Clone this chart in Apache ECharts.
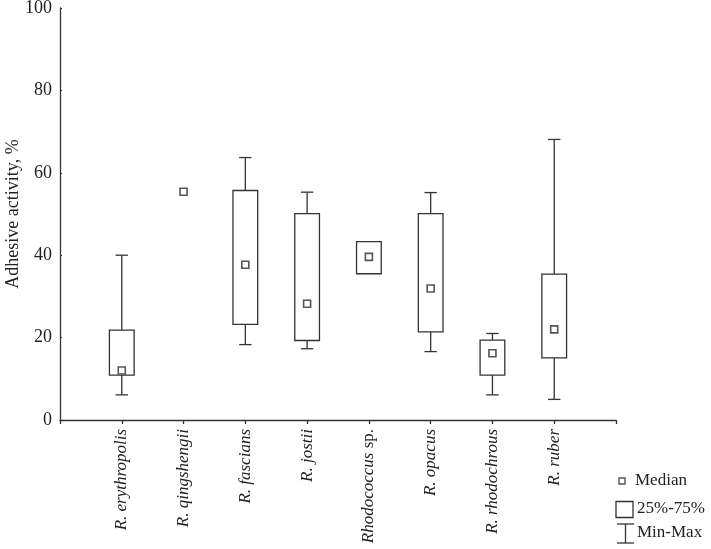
<!DOCTYPE html>
<html>
<head>
<meta charset="utf-8">
<script src="https://cdn.jsdelivr.net/npm/echarts@6/dist/echarts.min.js"></script>
<style>
  html, body { margin: 0; padding: 0; background: #fff; }
  #chart { width: 711px; height: 549px; }
</style>
</head>
<body>
<div id="chart"></div>
<script>
// species along the x axis (positions 1..8 on a 0..9 value axis)
const species = [
  "R. erythropolis", "R. qingshengii", "R. fascians", "R. jostii",
  "Rhodococcus sp.", "R. opacus", "R. rhodochrous", "R. ruber"
];
// null = not drawn
const minVals    = [6.1, null, 18.3, 17.3, 35.5, 16.6, 6.1, 5.0];
const q1Vals     = [10.9, null, 23.2, 19.3, 35.5, 21.4, 10.9, 15.1];
const medianVals = [12.0, 55.4, 37.7, 28.2, 39.6, 31.9, 16.2, 22.0];
const q3Vals     = [21.8, null, 55.7, 50.1, 43.3, 50.1, 19.4, 35.4];
const maxVals    = [40.0, null, 63.7, 55.3, 43.3, 55.2, 21.0, 68.1];
const yTicks = [0, 20, 40, 60, 80, 100];

const SERIF = '"Liberation Serif", "Times New Roman", serif';
const INK = "#333";

const rows = species.map((s, i) => [i + 1, minVals[i], q1Vals[i], medianVals[i], q3Vals[i], maxVals[i]]);

function renderBox(params, api) {
  const x = api.value(0);
  const mn = api.value(1), q1 = api.value(2), md = api.value(3), q3 = api.value(4), mx = api.value(5);
  const step = api.size([1, 0])[0];
  const boxW = step * 0.4, capW = step * 0.2;
  const line = { stroke: INK, lineWidth: 1.3, fill: null };
  const kids = [];
  const has = v => v != null && !isNaN(v);
  if (has(q1) && has(q3)) {
    const top = api.coord([x, q3]), bot = api.coord([x, q1]);
    if (has(mx) && mx > q3) {
      const p = api.coord([x, mx]);
      kids.push({ type: "line", shape: { x1: p[0], y1: p[1], x2: top[0], y2: top[1] }, style: line });
      kids.push({ type: "line", shape: { x1: p[0] - capW / 2, y1: p[1], x2: p[0] + capW / 2, y2: p[1] }, style: line });
    }
    if (has(mn) && mn < q1) {
      const p = api.coord([x, mn]);
      kids.push({ type: "line", shape: { x1: bot[0], y1: bot[1], x2: p[0], y2: p[1] }, style: line });
      kids.push({ type: "line", shape: { x1: p[0] - capW / 2, y1: p[1], x2: p[0] + capW / 2, y2: p[1] }, style: line });
    }
    kids.push({
      type: "rect",
      shape: { x: top[0] - boxW / 2, y: top[1], width: boxW, height: bot[1] - top[1] },
      style: { stroke: INK, lineWidth: 1.3, fill: "#fff" }
    });
  }
  if (has(md)) {
    const p = api.coord([x, md]);
    kids.push({
      type: "rect",
      shape: { x: p[0] - 3.5, y: p[1] - 3.5, width: 7, height: 7 },
      style: { stroke: "#555", lineWidth: 1.6, fill: "#fff" }
    });
  }
  return { type: "group", children: kids };
}

const chart = echarts.init(document.getElementById("chart"), null, { renderer: "canvas" });

chart.setOption({
  animation: false,
  backgroundColor: "#fff",
  grid: { left: 60, right: 95, top: 8, bottom: 129, outerBoundsMode: "none" },
  xAxis: {
    type: "value",
    min: 0, max: 9, interval: 1,
    splitLine: { show: false },
    axisLine: { lineStyle: { color: INK, width: 1.3 } },
    axisTick: { show: true, length: 4, lineStyle: { color: INK, width: 1.3 } },
    axisLabel: {
      rotate: 90,
      margin: 9,
      color: "#222",
      fontFamily: SERIF,
      fontSize: 17,
      fontStyle: "italic",
      formatter: v => {
        const s = species[v - 1];
        if (!s) return "";
        if (s === "Rhodococcus sp.") return "{it|Rhodococcus} {up|sp.}";
        return "{it|" + s + "}";
      },
      rich: {
        it: { fontFamily: SERIF, fontSize: 17, fontStyle: "italic", color: "#222" },
        up: { fontFamily: SERIF, fontSize: 17, fontStyle: "normal", color: "#222" }
      }
    }
  },
  yAxis: {
    type: "value",
    min: yTicks[0], max: yTicks[yTicks.length - 1], interval: 20,
    name: "Adhesive activity, %",
    nameLocation: "middle",
    nameGap: 38,
    nameMoveOverlap: false,
    nameTextStyle: { fontFamily: SERIF, fontSize: 18, color: "#222" },
    splitLine: { show: false },
    axisLine: { show: true, lineStyle: { color: INK, width: 1.3 } },
    axisTick: { show: true, inside: true, length: 2, lineStyle: { color: INK, width: 1 } },
    axisLabel: { margin: 8, color: "#222", fontFamily: SERIF, fontSize: 18 }
  },
  series: [{
    type: "custom",
    renderItem: renderBox,
    data: rows,
    encode: { x: 0, y: [1, 2, 3, 4, 5] },
    silent: true
  }],
  // legend drawn by hand, like the original figure
  graphic: [
    { type: "rect", shape: { x: 619, y: 478, width: 6, height: 6 }, style: { stroke: "#555", lineWidth: 1.4, fill: "#fff" } },
    { type: "text", x: 635, y: 481, style: { text: "Median", font: "17px " + SERIF, fill: "#222", verticalAlign: "middle" } },
    { type: "rect", shape: { x: 616, y: 501.5, width: 17, height: 16 }, style: { stroke: INK, lineWidth: 1.3, fill: "#fff" } },
    { type: "text", x: 637, y: 509, style: { text: "25%-75%", font: "17px " + SERIF, fill: "#222", verticalAlign: "middle" } },
    { type: "line", shape: { x1: 617, y1: 524, x2: 634, y2: 524 }, style: { stroke: INK, lineWidth: 1.3 } },
    { type: "line", shape: { x1: 625.5, y1: 524, x2: 625.5, y2: 543 }, style: { stroke: INK, lineWidth: 1.3 } },
    { type: "line", shape: { x1: 617, y1: 543, x2: 634, y2: 543 }, style: { stroke: INK, lineWidth: 1.3 } },
    { type: "text", x: 637, y: 533, style: { text: "Min-Max", font: "17px " + SERIF, fill: "#222", verticalAlign: "middle" } }
  ]
});
</script>
</body>
</html>
